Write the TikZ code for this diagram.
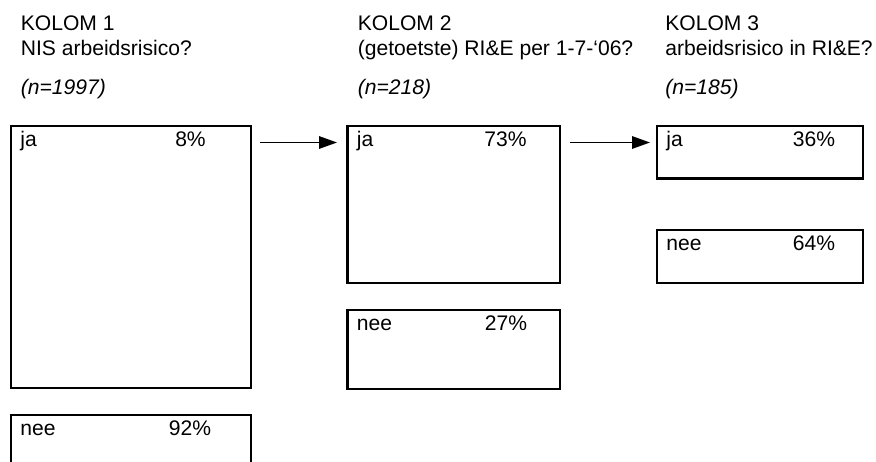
\documentclass[tikz,border=0pt]{standalone}
\usepackage{fontspec}
\setmainfont{Liberation Sans}
\usetikzlibrary{arrows.meta}
\newcommand{\diagramfont}{\fontsize{12}{15}\selectfont}
\tikzset{
  answerbox/.style={
    draw,
    line width=1.2pt,
    inner sep=0pt,
    outer sep=0pt,
    anchor=north west
  },
  boxtext/.style={anchor=base west, inner sep=0pt, font=\diagramfont},
  pcttext/.style={anchor=base, inner sep=0pt, font=\diagramfont},
  headtext/.style={anchor=base west, inner sep=0pt, font=\diagramfont},
  flow/.style={
    line width=0.85pt,
    -{Triangle[length=3.6mm,width=2.5mm]}
  }
}
% name, x, y, width, height, answer, percentage, x of percentage
\newcommand{\answerBox}[8]{%
  \node[answerbox,
        minimum width=#4*0.02cm,
        minimum height=#5*0.02cm] (#1) at (#2,#3) {};
  \node[boxtext] (#1-label) at ([shift={(9,20.5)}]#1.north west) {#6};
  \node[pcttext] (#1-pct) at ([shift={(#8,20.5)}]#1.north west) {#7\%};
}

\begin{document}
\begin{tikzpicture}[x=0.02cm,y=-0.02cm]

  % picture is measured in pixels, y downwards
  \clip (0,0) rectangle (876,462);

  % headers<<<
  \foreach \i/\x/\q/\n in {
      1/20.5/NIS arbeidsrisico?/1997,
      2/357.5/(getoetste) RI\&E per 1-7-‘06?/218,
      3/665/arbeidsrisico in RI\&E?/185}{
    \node[headtext] (title\i) at (\x,31) {KOLOM \i};
    \node[headtext] (question\i) at (\x,56) {\q};
    \node[headtext] (count\i) at (\x,95) {\itshape(n=\n)};
  }% >>>

  % Kolom 1<<<
  \answerBox{ja1}{11}{126}{240}{262}{ja}{8}{179.5}
  \answerBox{nee1}{11}{415}{240}{80}{nee}{92}{179}
  % >>>

  % Kolom 2<<<
  \answerBox{ja2}{347.5}{126}{212.5}{157}{ja}{73}{158}
  \answerBox{nee2}{347.5}{310}{212.5}{79}{nee}{27}{158.5}
  % >>>

  % Kolom 3<<<
  \answerBox{ja3}{657}{126}{206}{52.5}{ja}{36}{157}
  \answerBox{nee3}{657}{230}{206}{53}{nee}{64}{157}
  % >>>

  \draw[flow] ([shift={(9,16.5)}]ja1.north east)
    -- ([shift={(-10.5,16.5)}]ja2.north west);
  \draw[flow] ([shift={(10,16.5)}]ja2.north east)
    -- ([shift={(-7,16.5)}]ja3.north west);

\end{tikzpicture}
\end{document}
